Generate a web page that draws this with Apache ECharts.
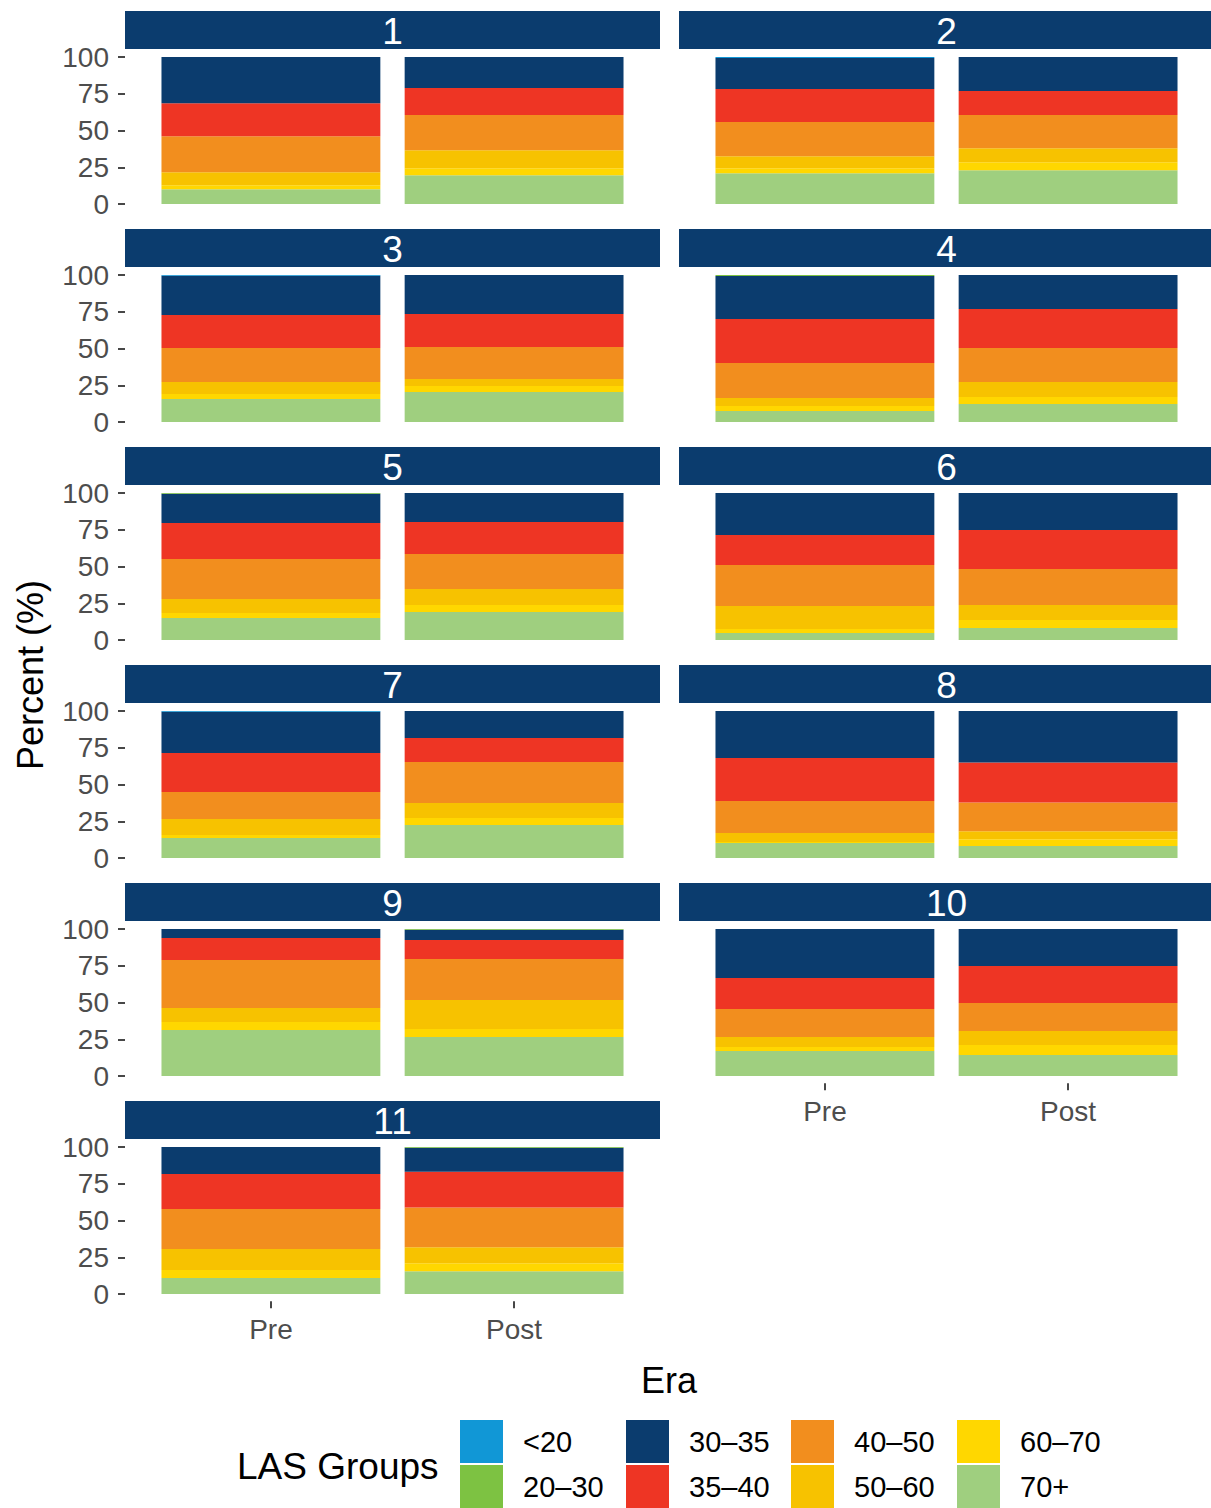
<!DOCTYPE html>
<html><head><meta charset="utf-8">
<script src="https://cdn.jsdelivr.net/npm/echarts@6/dist/echarts.min.js"></script>
<style>html,body{margin:0;padding:0;background:#fff}#c{width:1211px;height:1508px}</style>
</head><body><div id="c"></div>
<script>
// ---- data ----
const facets = ['1','2','3','4','5','6','7','8','9','10','11'];
const eras = ['Pre','Post'];
const groups = ['<20','20–30','30–35','35–40','40–50','50–60','60–70','70+'];
const yTicks = [0, 25, 50, 75, 100];
// percent per facet: [Pre, Post]
const lt20   = [[0,0],[0.7,0],[0.5,0],[0,0],[0,0],[0,0],[0.5,0],[0,0],[0,0],[0,0],[0,0]];
const g20_30 = [[0,0],[0,0],[0,0],[0.7,0],[0.5,0],[0,0],[0,0],[0,0],[0,0.5],[0,0],[0,0.5]];
const g30_35 = [[31.4,21.1],[21.1,23.2],[26.7,26.5],[29.2,23.1],[19.9,19.7],[28.6,25.2],[28.1,18.4],[32.0,35.1],[6.1,7.0],[33.3,25.2],[18.4,16.4]];
const g35_40 = [[22.5,18.4],[22.5,16.3],[22.5,22.5],[30.0,26.6],[24.5,21.8],[20.4,26.5],[26.5,16.3],[29.2,27.1],[15.0,12.9],[21.1,25.1],[23.8,24.3]];
const g40_50 = [[24.5,23.9],[23.2,22.5],[23.1,21.7],[23.8,23.1],[27.2,23.8],[27.9,24.5],[18.4,27.9],[21.8,19.6],[32.6,27.9],[19.1,19.1],[27.2,27.0]];
const g50_60 = [[8.9,12.3],[8.2,9.6],[8.2,4.8],[5.4,10.2],[9.5,10.9],[15.6,10.2],[10.9,10.2],[6.1,5.4],[9.6,19.7],[6.8,9.5],[14.3,10.9]];
const g60_70 = [[2.7,4.8],[3.4,5.4],[3.4,4.1],[3.4,4.8],[3.4,4.8],[2.7,5.4],[2.0,4.8],[0.7,4.7],[5.4,5.5],[2.7,6.8],[5.4,5.4]];
const g70p   = [[10.0,19.5],[20.9,23.0],[15.6,20.4],[7.5,12.2],[15.0,19.0],[4.8,8.2],[13.6,22.4],[10.2,8.1],[31.3,26.5],[17.0,14.3],[10.9,15.5]];

// ---- styling ----
const groupValues = {'<20':lt20,'20–30':g20_30,'30–35':g30_35,'35–40':g35_40,'40–50':g40_50,'50–60':g50_60,'60–70':g60_70,'70+':g70p};
const colors = {'<20':'#1197D6','20–30':'#7DC242','30–35':'#0B3C6E','35–40':'#EE3524','40–50':'#F28E1E','50–60':'#F7C200','60–70':'#FFD700','70+':'#9FCF7F'};
const stackOrder = ['70+','60–70','50–60','40–50','35–40','30–35','20–30','<20'];
const FONT = '"Liberation Sans", Arial, sans-serif';
const panelLeft = [125, 679], panelW = 535, unit = panelW / 2.2;
const rowPitch = 218, row0 = 57, plotH = 147;
const stripTop0 = 11, stripH = 38;

const grids = [], xAxes = [], yAxes = [], series = [], graphics = [];
facets.forEach((f, i) => {
  const col = i % 2, row = Math.floor(i / 2);
  const gl = panelLeft[col] + 0.1 * unit;
  grids.push({left: gl, top: row0 + rowPitch * row, width: 2 * unit, height: plotH, containLabel: false});
  const showX = i >= 9;
  xAxes.push({type: 'category', gridIndex: i, data: eras, offset: plotH * 0.05,
    axisLine: {show: false, onZero: false},
    axisTick: {show: showX, alignWithLabel: true, length: 7, lineStyle: {color: '#333', width: 1.8}},
    axisLabel: {show: showX, margin: 14, fontSize: 28, color: '#4D4D4D', fontFamily: FONT},
    splitLine: {show: false}});
  const showY = col === 0;
  yAxes.push({type: 'value', gridIndex: i, min: yTicks[0], max: yTicks[yTicks.length-1], interval: 25,
    offset: 0.1 * unit,
    axisLine: {show: false},
    axisTick: {show: showY, length: 7, lineStyle: {color: '#333', width: 1.8}},
    axisLabel: {show: showY, margin: 16, fontSize: 28, color: '#4D4D4D', fontFamily: FONT},
    splitLine: {show: false}});
  stackOrder.forEach(g => {
    series.push({type: 'bar', name: g, xAxisIndex: i, yAxisIndex: i, stack: 'f' + i,
      barWidth: '90%', itemStyle: {color: colors[g]},
      emphasis: {disabled: true},
      data: groupValues[g][i]});
  });
  const sy = stripTop0 + rowPitch * row;
  graphics.push({type: 'rect', shape: {x: panelLeft[col], y: sy, width: panelW, height: stripH}, style: {fill: '#0B3C6E'}, silent: true});
  graphics.push({type: 'text', x: panelLeft[col] + panelW / 2, y: sy + stripH / 2 + 1,
    style: {text: f, fill: '#FFFFFF', font: '37px ' + FONT, textAlign: 'center', textVerticalAlign: 'middle'}, silent: true});
});

graphics.push({type: 'text', x: 30, y: 675, rotation: Math.PI / 2,
  style: {text: 'Percent (%)', fill: '#000', font: '36px ' + FONT, textAlign: 'center', textVerticalAlign: 'middle'}});
graphics.push({type: 'text', x: 669, y: 1380,
  style: {text: 'Era', fill: '#000', font: '36px ' + FONT, textAlign: 'center', textVerticalAlign: 'middle'}});
graphics.push({type: 'text', x: 237, y: 1466,
  style: {text: 'LAS Groups', fill: '#000', font: '37px ' + FONT, textAlign: 'left', textVerticalAlign: 'middle'}});

// legend laid out column-major: 2 rows x 4 columns
const legendCols = [460, 626, 791, 957], legendRows = [1420, 1465];
const legends = groups.map((g, k) => ({
  data: [g], left: legendCols[Math.floor(k / 2)], top: legendRows[k % 2],
  orient: 'horizontal', padding: 0, itemGap: 0, itemWidth: 43, itemHeight: 43, icon: 'rect',
  selectedMode: false,
  textStyle: {fontSize: 29, color: '#000', fontFamily: FONT, padding: [0, 0, 0, 15]}
}));

const chart = echarts.init(document.getElementById('c'), null, {renderer: 'svg'});
chart.setOption({
  animation: false,
  backgroundColor: '#fff',
  grid: grids, xAxis: xAxes, yAxis: yAxes, series: series,
  legend: legends, graphic: graphics
});
</script></body></html>
